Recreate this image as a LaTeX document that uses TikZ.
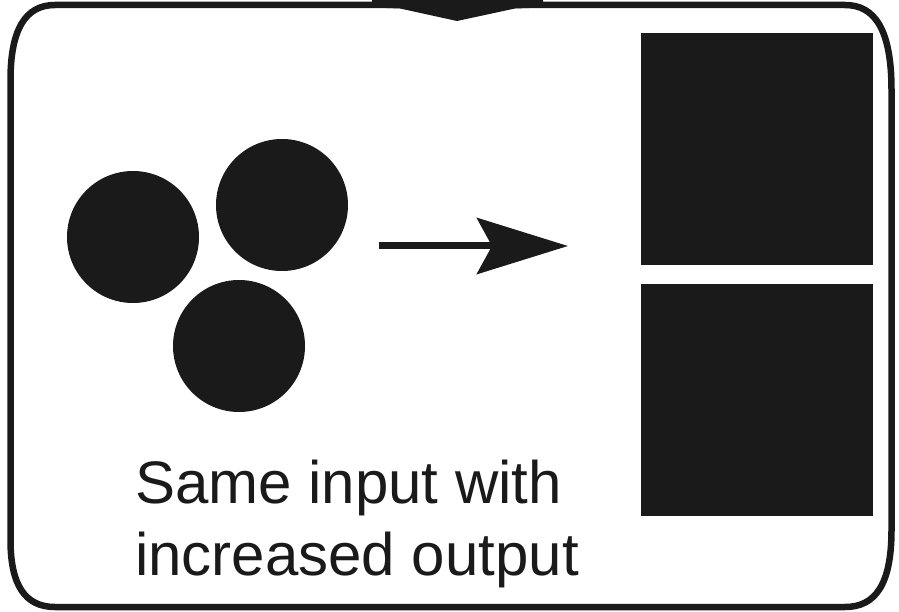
\documentclass[tikz,border=0pt]{standalone}
\usepackage{fontspec}
\setmainfont{Liberation Sans}
\usetikzlibrary{arrows.meta}
\definecolor{ink}{HTML}{1A1A1A}
\begin{document}
\begin{tikzpicture}[x=1pt,y=-1pt,
  frame/.style={draw=ink,line width=6.5pt},
  ball/.style={circle,fill=ink,inner sep=0pt,minimum size=132pt},
  block/.style={rectangle,fill=ink,inner sep=0pt,minimum size=232pt},
  label/.style={anchor=base west,inner sep=0pt,text=ink,font=\fontsize{60}{72}\selectfont},
  flow/.style={draw=ink,line width=7pt,-{Stealth[length=91pt,width=56pt,inset=15pt]}}]
\useasboundingbox (0,0) rectangle (899,612);
% frame
\draw[frame] (55,5) -- (845,5)
  .. controls (875,5) and (891.5,30) .. (891.5,90)
  -- (891.5,530)
  .. controls (891.5,585) and (875,607) .. (845,607)
  -- (55,607)
  .. controls (25,607) and (10.5,585) .. (10.5,540)
  -- (10.5,80)
  .. controls (10.5,30) and (25,5) .. (55,5) -- cycle;
% notch at top
\fill[ink] (372,0) -- (543,0) -- (543,7.5) -- (515,8.5) -- (457,21) -- (400,8.5) -- (372,7.5) -- cycle;
% balls
\node[ball] (b1) at (133,237) {};
\node[ball] (b2) at (282,205) {};
\node[ball] (b3) at (239,346) {};
% arrow
\coordinate (as) at (379,246);
\coordinate (ae) at (568,246);
\draw[flow] (as) -- (ae);
% blocks
\node[block] (s1) at (757,149) {};
\node[block] (s2) at (757,400) {};
% text
\node[label] (t1) at (135,503) {Same input with};
\node[label] (t2) at (135,575) {increased output};
\end{tikzpicture}
\end{document}
